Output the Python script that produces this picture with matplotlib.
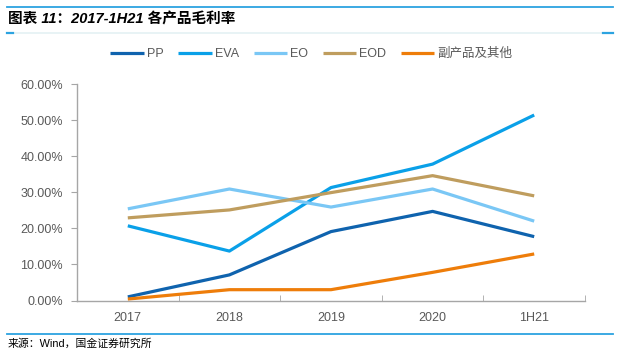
import matplotlib.pyplot as plt
from matplotlib.lines import Line2D

plt.rcParams['font.family'] = ['Liberation Sans', 'Noto Sans CJK SC', 'DejaVu Sans']

categories = ['2017', '2018', '2019', '2020', '1H21']
series_names = ['PP', 'EVA', 'EO', 'EOD', '副产品及其他']
pp = [0.010, 0.071, 0.191, 0.247, 0.177]
eva = [0.207, 0.137, 0.313, 0.378, 0.514]
eo = [0.254, 0.309, 0.259, 0.309, 0.220]
eod = [0.229, 0.251, 0.299, 0.346, 0.290]
other = [0.004, 0.030, 0.030, 0.078, 0.129]
colors = ['#0F63AE', '#0AA0E8', '#7AC7F5', '#BF9D5E', '#EE7D0A']

fig = plt.figure(figsize=(6.18, 3.54), dpi=100)
ax = fig.add_axes([0.1246, 0.1511, 0.822, 0.6116])

x = range(len(categories))
for name, vals, c in zip(series_names, [pp, eva, eo, eod, other], colors):
    ax.plot(x, vals, color=c, lw=2.3, label=name, solid_capstyle='butt')

ax.set_xlim(-0.5, len(categories) - 0.5)
ax.set_ylim(0, 0.6)
ax.set_yticks([i / 10 for i in range(7)])
ax.set_yticklabels(['%.2f%%' % (i * 10) for i in range(7)])
ax.set_xticks(list(x))
ax.set_xticklabels(categories)
ax.set_xticks([i + 0.5 for i in range(-1, len(categories))], minor=True)

gray = '#A6A6A6'
for s in ['top', 'right']:
    ax.spines[s].set_visible(False)
for s in ['left', 'bottom']:
    ax.spines[s].set_color(gray)
    ax.spines[s].set_linewidth(1.0)
ax.tick_params(axis='y', direction='out', length=4, color=gray, labelsize=9,
               labelcolor='#595959', pad=6)
ax.tick_params(axis='x', which='major', length=0, labelsize=9,
               labelcolor='#595959', pad=8)
ax.tick_params(axis='x', which='minor', direction='in', length=4, color=gray)

leg = ax.legend(loc='center', bbox_to_anchor=(311.5 / 618, 1 - 54 / 354),
                bbox_transform=fig.transFigure, ncol=5, frameon=False,
                fontsize=9, handlelength=2.65, handletextpad=0.25,
                columnspacing=1.2, borderpad=0)
for t in leg.get_texts():
    t.set_color('#595959')

# header and footer decorations
fig.add_artist(Line2D([0.011, 0.992], [1 - 7 / 354, 1 - 7 / 354],
                      color='#2CA3E0', lw=1.3))
fig.add_artist(Line2D([0.011, 0.992], [1 - 33 / 354, 1 - 33 / 354],
                      color='#E4F1F4', lw=1.2))
fig.add_artist(Line2D([0.011, 0.021], [1 - 33 / 354, 1 - 33 / 354],
                      color='#2CA3E0', lw=1.6))
fig.add_artist(Line2D([0.976, 0.992], [1 - 33 / 354, 1 - 33 / 354],
                      color='#2CA3E0', lw=1.6))
fig.add_artist(Line2D([0.011, 0.992], [1 - 334 / 354, 1 - 334 / 354],
                      color='#2CA3E0', lw=1.3))

fig.text(0.013, 1 - 19 / 354, '图表 11：2017-1H21 各产品毛利率', fontsize=10.5,
         fontweight='bold', style='italic', va='center',
         family=['Liberation Sans', 'Noto Sans CJK SC'])
fig.text(0.013, 1 - 344 / 354, '来源：Wind，国金证券研究所', fontsize=7.8,
         va='center', family=['Liberation Sans', 'Noto Sans CJK SC'])

fig.savefig('out.png', dpi=100)
